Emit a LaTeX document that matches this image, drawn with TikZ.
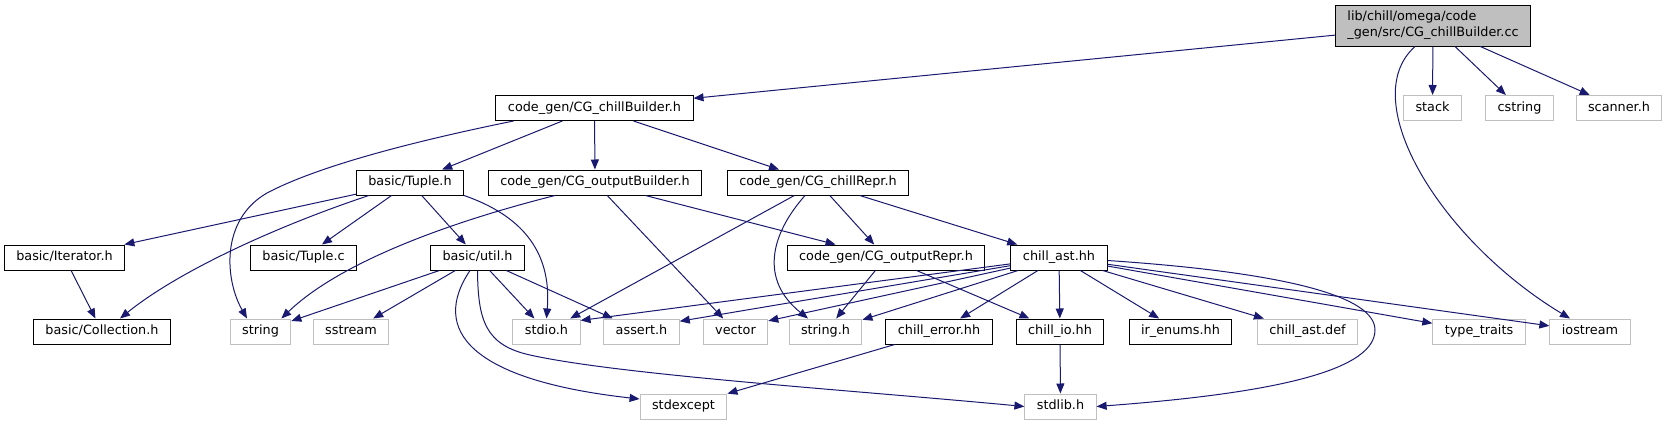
\documentclass[tikz,border=0pt]{standalone}
\usepackage{fontspec}
\setmainfont{DejaVu Sans}
\usetikzlibrary{arrows.meta, calc}
\definecolor{edgeblue}{HTML}{191970}
\definecolor{grey75}{HTML}{BFBFBF}

\begin{document}
\begin{tikzpicture}[x=0.75pt, y=-0.75pt, >={Triangle[length=7.5pt,width=6pt]},
  every node/.style={font=\fontsize{9.6}{12}\selectfont, inner xsep=9pt, inner ysep=0pt,
    minimum height=18.75pt, text height=7pt, text depth=2.3pt, line width=0.75pt},
  doc/.style={draw=black, fill=white},
  ext/.style={draw=grey75, fill=white},
  dep/.style={->, draw=edgeblue, line width=0.75pt}]
  \useasboundingbox (0,0) rectangle (1667,425);
  % Fichier source
  \node[doc, fill=grey75, align=left, minimum height=30.75pt, text height=, text depth=]
    (root) at (1433,25.5) {lib/chill/omega/code\\\_gen/src/CG\_chillBuilder.cc};
  % Rang 1
  \node[doc] (cbh) at (594.5,108) {code\_gen/CG\_chillBuilder.h};
  \node[ext] (stack) at (1432.5,108) {stack};
  \node[ext] (cstring) at (1519.5,108) {cstring};
  \node[ext] (scanner) at (1619,108) {scanner.h};
  % Rang 2
  \node[doc] (tupleh) at (410,182.5) {basic/Tuple.h};
  \node[doc] (obh) at (595,182.5) {code\_gen/CG\_outputBuilder.h};
  \node[doc] (crh) at (818,182.5) {code\_gen/CG\_chillRepr.h};
  % Rang 3
  \node[doc] (iterh) at (64.5,257.5) {basic/Iterator.h};
  \node[doc] (tuplec) at (303.5,257.5) {basic/Tuple.c};
  \node[doc] (utilh) at (477.5,257.5) {basic/util.h};
  \node[doc] (orh) at (886,257.5) {code\_gen/CG\_outputRepr.h};
  \node[doc] (asth) at (1059,257.5) {chill\_ast.hh};
  % Rang 4
  \node[doc] (collh) at (102,331.5) {basic/Collection.h};
  \node[ext] (string) at (260.5,331.5) {string};
  \node[ext] (sstream) at (351,331.5) {sstream};
  \node[ext] (stdioh) at (546.5,331.5) {stdio.h};
  \node[ext] (asserth) at (641.5,331.5) {assert.h};
  \node[ext] (vector) at (735.5,331.5) {vector};
  \node[ext] (stringh) at (825.5,331.5) {string.h};
  \node[doc] (errh) at (939,331.5) {chill\_error.hh};
  \node[doc] (ioh) at (1060,331.5) {chill\_io.hh};
  \node[doc] (enumsh) at (1180.5,331.5) {ir\_enums.hh};
  \node[ext] (astdef) at (1307.5,331.5) {chill\_ast.def};
  \node[ext] (traits) at (1479,331.5) {type\_traits};
  \node[ext] (iostream) at (1590,331.5) {iostream};
  % Rang 5
  \node[ext] (stdexcept) at (683.5,406.5) {stdexcept};
  \node[ext] (stdlibh) at (1060.5,406.5) {stdlib.h};

  % Inclusions du fichier source
  \draw[dep] (root) -- (cbh);
  \draw[dep] (root) -- (stack);
  \draw[dep] (root) -- (cstring);
  \draw[dep] (root) -- (scanner);
  \draw[dep] ($(root.south)+(-18,0)$) .. controls (1355,100) and (1440,240) .. ($(iostream.north)+(-20,0)$);
  % CG_chillBuilder.h
  \draw[dep] (cbh) -- (tupleh);
  \draw[dep] (cbh) -- (obh);
  \draw[dep] (cbh) -- (crh);
  \draw[dep] ($(cbh.south west)+(18,0)$) .. controls (420,140) and (320,165) .. (267,193)
    .. controls (220,220) and (225,280) .. ($(string.north)+(-13.5,0)$);
  % Tuple.h
  \draw[dep] (tupleh) -- (iterh);
  \draw[dep] (tupleh) -- (tuplec);
  \draw[dep] (tupleh) -- (utilh);
  \draw[dep] ($(tupleh.south west)+(13,0)$) .. controls (280,225) and (180,270) .. ($(collh.north)+(18,0)$);
  \draw[dep] (tupleh.south east) .. controls (520,215) and (552,250) .. (stdioh.north);
  \draw[dep] (iterh) -- (collh);
  % util.h
  \draw[dep] (utilh) -- (string);
  \draw[dep] (utilh) -- (sstream);
  \draw[dep] (utilh) -- (stdioh);
  \draw[dep] (utilh) -- (asserth);
  \draw[dep] ($(utilh.south)+(-7.5,0)$) .. controls (430,330) and (470,380) .. ($(stdexcept.west)+(0,-7.5)$);
  \draw[dep] (utilh.south) .. controls (478,320) and (485,345) .. (530,355)
    .. controls (620,375) and (850,390) .. (stdlibh.west);
  % CG_outputBuilder.h
  \draw[dep] ($(obh.south)+(-40,0)$) .. controls (450,222) and (340,262) .. ($(string.north east)+(-10,0)$);
  \draw[dep] (obh) -- (vector);
  \draw[dep] (obh) -- (orh);
  % CG_chillRepr.h
  \draw[dep] (crh) -- (stdioh);
  \draw[dep] ($(crh.south)+(-13,0)$) .. controls (770,235) and (760,280) .. ($(stringh.north)+(-17.5,0)$);
  \draw[dep] (crh) -- (orh);
  \draw[dep] (crh) -- (asth);
  % CG_outputRepr.h
  \draw[dep] (orh) -- (stringh);
  \draw[dep] (orh) -- (ioh);
  % chill_ast.hh
  \draw[dep] (asth) -- (stdioh.18);
  \draw[dep] (asth) -- (asserth.15);
  \draw[dep] (asth) -- (vector.18);
  \draw[dep] (asth) -- (stringh);
  \draw[dep] (asth) -- (errh);
  \draw[dep] (asth) -- (ioh);
  \draw[dep] (asth) -- (enumsh);
  \draw[dep] (asth) -- (astdef);
  \draw[dep] (asth) -- (traits);
  \draw[dep] (asth) -- (iostream);
  \draw[dep] ($(asth.east)+(0,3)$) .. controls (1250,270) and (1375,290) .. (1375,330)
    .. controls (1375,375) and (1250,395) .. (stdlibh.east);
  % chill_error.hh et chill_io.hh
  \draw[dep] (errh) -- (stdexcept);
  \draw[dep] (ioh) -- (stdlibh);
\end{tikzpicture}
\end{document}
